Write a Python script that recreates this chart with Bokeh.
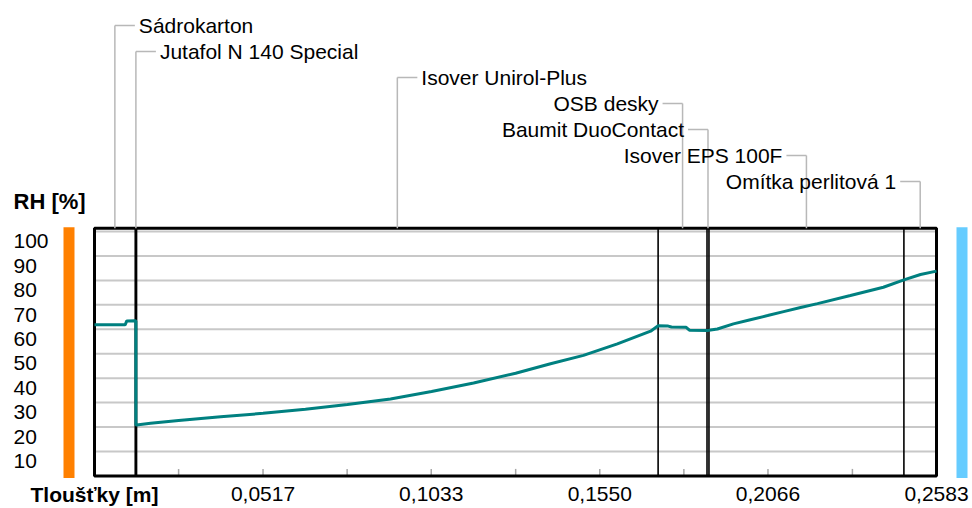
from bokeh.plotting import figure
from bokeh.models import Range1d
from bokeh.core.properties import value
from bokeh.embed import file_html
from bokeh.resources import INLINE
import numpy as np

# ---------------- data ----------------
layer_names = ["Sádrokarton", "Jutafol N 140 Special", "Isover Unirol-Plus", "OSB desky",
               "Baumit DuoContact", "Isover EPS 100F", "Omítka perlitová 1"]
layer_thickness = [0.0125, 0.0004, 0.16, 0.015, 0.0006, 0.0598, 0.01]
label_side = ["left", "left", "left", "right", "right", "right", "right"]

rh_x = [0.0, 0.0094, 0.0099, 0.0125, 0.0127, 0.0127, 0.0129, 0.0172, 0.0258, 0.0387,
        0.0517, 0.0647, 0.0776, 0.0908, 0.1034, 0.1163, 0.1292, 0.1399, 0.1500, 0.1604,
        0.1706, 0.1729, 0.1760, 0.1770, 0.1815, 0.1825, 0.1879, 0.1885, 0.1911, 0.1960,
        0.2012, 0.2065, 0.2114, 0.2166, 0.2218, 0.2319, 0.2420, 0.2483, 0.2534, 0.2583]
rh_y = [61.8, 61.8, 63.4, 63.5, 63.3, 20.8, 20.8, 21.5, 22.7, 24.2,
        25.6, 27.3, 29.2, 31.5, 34.5, 38.0, 42.0, 45.9, 49.3, 54.0,
        59.2, 61.4, 61.3, 60.9, 60.8, 59.6, 59.5, 59.6, 60.1, 62.2,
        63.9, 65.6, 67.2, 68.9, 70.5, 73.8, 77.2, 80.2, 82.4, 83.8]

x_ticks = [0.0, 0.0517, 0.1033, 0.1550, 0.2066, 0.2583]
x_tick_labels = ["Tloušťky [m]", "0,0517", "0,1033", "0,1550", "0,2066", "0,2583"]
x_minor_ticks = [0.0258, 0.0775, 0.1292, 0.1808, 0.2325]
y_ticks = [10, 20, 30, 40, 50, 60, 70, 80, 90, 100]
y_tick_labels = ["10", "20", "30", "40", "50", "60", "70", "80", "90", "100"]

# ---------------- layout (pixels) ----------------
W, H = 970, 508
X0_PX, X1_PX = 94, 936         # canvas px of x=0 and x=total
Y0_PX, Y100_PX = 475.4, 231.0  # canvas px of RH 0 and RH 100
total = float(np.sum(layer_thickness))
sx = (X1_PX - X0_PX) / total
sy = (Y0_PX - Y100_PX) / 100.0

def ox(n):
    return n / sx

def oy(n):
    return n / sy

def cy(py):  # canvas px y -> data y
    return (Y0_PX - py) / sy

x_range = Range1d(-X0_PX / sx, total + (W - X1_PX) / sx)
y_range = Range1d(-(H - Y0_PX) / sy, Y0_PX / sy)

p = figure(width=W, height=H, x_range=x_range, y_range=y_range,
           output_backend="svg", toolbar_location=None,
           x_axis_location=None, y_axis_location=None, min_border=0)
p.grid.visible = False
p.outline_line_color = None
p.background_fill_color = "white"
p.border_fill_color = "white"

FONT = value("Liberation Sans")
FS = "21px"
box_top = 100 + oy(3.3)

# gridlines
p.segment(x0=[0] * len(y_ticks), y0=y_ticks, x1=[total] * len(y_ticks), y1=y_ticks,
          line_color="#c8c8c8", line_width=2)

# x ticks (inside, upward)
all_ticks = sorted(x_ticks[1:-1] + x_minor_ticks)
p.segment(x0=all_ticks, y0=[0] * len(all_ticks), x1=all_ticks, y1=[oy(7)] * len(all_ticks),
          line_color="#a8a8a8", line_width=1.5)

# layer boundaries
bounds = list(np.cumsum(layer_thickness)[:-1])
p.segment(x0=bounds, y0=[0] * len(bounds), x1=bounds, y1=[box_top] * len(bounds),
          line_color="black", line_width=1.6)

# outer box
p.quad(left=[0], right=[total], bottom=[0], top=[box_top],
       fill_color=None, line_color="black", line_width=3)

# interior / exterior side bars
p.quad(left=[-ox(31)], right=[-ox(20)], bottom=[-oy(2)], top=[box_top + oy(1)],
       fill_color="#ff8000", line_color=None)
p.quad(left=[total + ox(20)], right=[total + ox(31)], bottom=[-oy(2)], top=[box_top + oy(1)],
       fill_color="#66ccff", line_color=None)

# RH curve
p.line(rh_x, rh_y, line_color="#008080", line_width=3)

# y labels (left aligned, left of the bars)
p.text(x=[-ox(81)] * len(y_ticks), y=[v - 4 for v in y_ticks], text=y_tick_labels,
       text_align="left", text_baseline="middle", text_font=FONT, text_font_size=FS,
       text_color="black")
p.text(x=[-ox(81)], y=[cy(201)], text=["RH [%]"], text_align="left",
       text_baseline="middle", text_font=FONT, text_font_size="22px",
       text_font_style="bold", text_color="black")

# x labels
lab_y = cy(493.5)
p.text(x=x_ticks[1:], y=[lab_y] * (len(x_ticks) - 1), text=x_tick_labels[1:],
       text_align="center", text_baseline="middle", text_font=FONT, text_font_size=FS,
       text_color="black")
p.text(x=x_ticks[:1], y=[lab_y], text=x_tick_labels[:1], text_align="center",
       text_baseline="middle", text_font=FONT, text_font_size="21px",
       text_font_style="bold", text_color="black")

# layer labels with leader lines
starts = np.concatenate([[0], np.cumsum(layer_thickness)[:-1]])
centers = list(starts + np.array(layer_thickness) / 2)
rows = [cy(25 + 26 * i) for i in range(len(layer_names))]
lead_col = "#b8b8b8"
p.segment(x0=centers, y0=[box_top] * len(centers), x1=centers, y1=rows,
          line_color=lead_col, line_width=1.5)
hx1 = [c + ox(20) if s == "left" else c - ox(20) for c, s in zip(centers, label_side)]
p.segment(x0=centers, y0=rows, x1=hx1, y1=rows, line_color=lead_col, line_width=1.5)
for c, r, name, s in zip(centers, rows, layer_names, label_side):
    tx = c + ox(24) if s == "left" else c - ox(24)
    p.text(x=[tx], y=[r], text=[name], text_align=s, text_baseline="middle",
           text_font=FONT, text_font_size=FS, text_color="black")

open("out.html", "w").write(file_html(p, INLINE))
